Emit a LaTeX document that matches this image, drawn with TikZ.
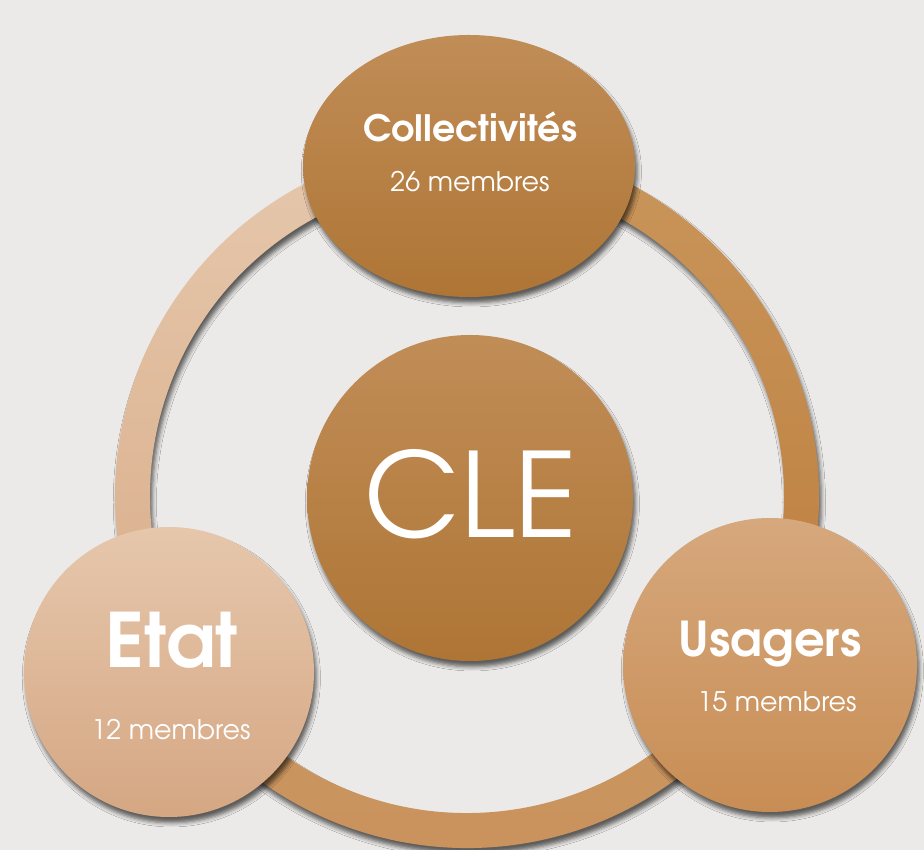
\documentclass[tikz,border=0pt]{standalone}
\usepackage{fontspec}
\setmainfont{texgyreadventor}[Extension=.otf, UprightFont=*-regular, BoldFont=*-bold]
\usetikzlibrary{shapes.geometric,shadows.blur}

\definecolor{fond}{HTML}{EBEAE8}
\definecolor{gaucheA}{HTML}{E6C8AD}
\definecolor{gaucheB}{HTML}{D9AD89}
\definecolor{droiteA}{HTML}{CA965B}
\definecolor{droiteB}{HTML}{BC7E3E}
\definecolor{basA}{HTML}{CD9966}
\definecolor{basB}{HTML}{C9925C}
\definecolor{fonceA}{HTML}{C18D57}
\definecolor{fonceB}{HTML}{AE7535}
\definecolor{clairA}{HTML}{E6C7AC}
\definecolor{clairB}{HTML}{D5A783}
\definecolor{moyenA}{HTML}{D6A87D}
\definecolor{moyenB}{HTML}{C88D54}

\begin{document}
\begin{tikzpicture}[x=0.3mm,y=0.3mm,
    ombre/.style={blur shadow={shadow xshift=2pt,shadow yshift=-5pt,shadow blur radius=3.5pt,shadow opacity=60}},
    rond/.style={circle,inner sep=0pt,ombre},
    titre/.style={anchor=base,text=white,font=\bfseries},
    membres/.style={anchor=base,text=white,font=\fontsize{23}{23}\selectfont}]

    \useasboundingbox (0,0) rectangle (924,850);
    \clip (0,0) rectangle (924,850);
    \fill[fond] (0,0) rectangle (924,850);

    % anneau en trois arcs
    \shade[ombre,top color=gaucheA,bottom color=gaucheB] (467,354) ++(88:352)
        arc[start angle=88,end angle=212,radius=352] -- ++(32:35)
        arc[start angle=212,end angle=88,radius=317] -- cycle;
    \shade[ombre,top color=droiteA,bottom color=droiteB] (467,354) ++(-32:352)
        arc[start angle=-32,end angle=92,radius=352] -- ++(-88:35)
        arc[start angle=92,end angle=-32,radius=317] -- cycle;
    \shade[ombre,top color=basA,bottom color=basB] (467,354) ++(208:352)
        arc[start angle=208,end angle=332,radius=352] -- ++(152:35)
        arc[start angle=332,end angle=208,radius=317] -- cycle;

    % cercles
    \node[ellipse,inner sep=0pt,ombre,minimum width=99.6mm,minimum height=78.6mm,
        top color=fonceA,bottom color=fonceB] (coll) at (469,684) {};
    \node[rond,minimum size=97.8mm,top color=fonceA,bottom color=fonceB] (cle) at (470,352) {};
    \node[rond,minimum size=87mm,top color=clairA,bottom color=clairB] (etat) at (169,178) {};
    \node[rond,minimum size=88.2mm,top color=moyenA,bottom color=moyenB] (usag) at (770,185) {};

    % textes
    \node[titre,font=\fontsize{31}{31}\bfseries] (collT) at (470,708) {Collectivités};
    \node[membres] (collM) at (470,658) {26 membres};
    \node[anchor=base,text=white,font=\fontsize{100}{100}\selectfont] (cleT) at (471,312) {CLE};
    \node[titre,font=\fontsize{64}{64}\bfseries] (etatT) at (172,182) {Etat};
    \node[membres] (etatM) at (171,110) {12 membres};
    \node[titre,font=\fontsize{41}{41}\bfseries] (usagT) at (770,193) {Usagers};
    \node[membres] (usagM) at (777,138) {15 membres};
\end{tikzpicture}
\end{document}
